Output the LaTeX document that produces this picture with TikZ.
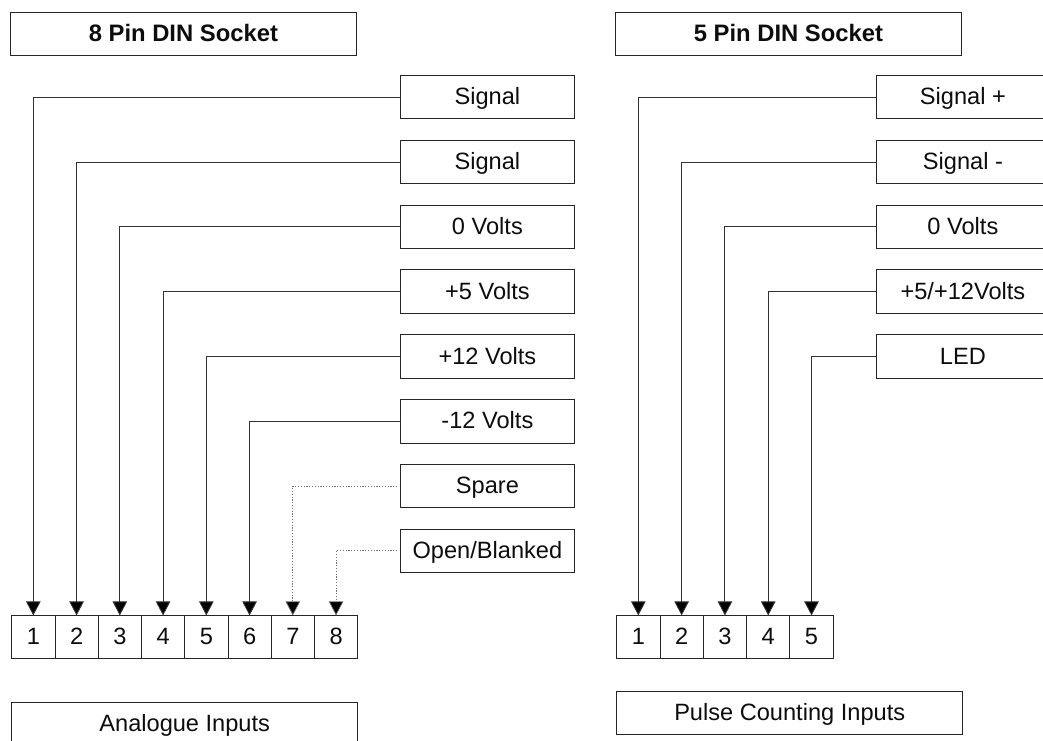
\documentclass[tikz,border=0pt]{standalone}
\usepackage{fontspec}
\setmainfont{Liberation Sans}
\usetikzlibrary{arrows.meta}
\tikzset{
  x=1pt,y=-1pt,
  boxbase/.style={draw=black!85,line width=0.9pt,fill=white,inner sep=0pt,outer sep=0pt,anchor=north west,font=\fontsize{23.6}{28}\selectfont,text=black!95,text height=17.5pt,text depth=2.3pt},
  widebox/.style={boxbase,minimum width=346pt,minimum height=43.2pt},
  labelbox/.style={boxbase,minimum width=173.6pt,minimum height=43.4pt},
  pinbox/.style={boxbase,minimum width=43.25pt,minimum height=43.3pt},
  titlebox/.style={widebox,font=\fontsize{23.8}{28}\selectfont\bfseries},
  wire/.style={draw=black!80,line width=0.9pt,-{Triangle[length=14pt,width=14.5pt,fill=black]}},
  dotwire/.style={wire,draw=black!55,line width=0.7pt,dash pattern=on 1.2pt off 1.6pt,shorten <=3.5pt},
}
\begin{document}
\begin{tikzpicture}
\path[use as bounding box] (0,0) rectangle (1043,740);
\clip (0,0) rectangle (1043,740);
\begin{scope}[shift={(0.4,0.4)}]
\node[titlebox] (t1) at (10,12) {8 Pin DIN Socket};
\node[titlebox] (t2) at (615,12) {5 Pin DIN Socket};
\node[widebox] (f1) at (11.3,701.7) {Analogue Inputs};
\node[widebox] (f2) at (616.3,690.7) {Pulse Counting Inputs};
% left labels
\foreach \n/\yy/\t in {1/75/Signal,2/140/Signal,3/204.8/0 Volts,4/269.4/+5 Volts,5/334.3/+12 Volts,6/399.2/-12 Volts,7/464/Spare,8/528.6/{Open/Blanked}}
  \node[labelbox] (a\n) at (400.2,\yy) {\t};
% right labels
\foreach \n/\yy/\t in {1/75/Signal +,2/140/Signal -,3/204.8/0 Volts,4/269.4/{+5/+12Volts},5/334.3/LED}
  \node[labelbox] (b\n) at (875.7,\yy) {\t};
% pins
\foreach \n in {1,...,8}
  \node[pinbox] (p\n) at ({11.3+(\n-1)*43.25},615) {\n};
\foreach \n in {1,...,5}
  \node[pinbox] (q\n) at ({616.3+(\n-1)*43.3},615) {\n};
% connectors
\foreach \n in {1,...,6}
  \draw[wire] (a\n.west) -| (p\n.north);
\foreach \n in {7,8}
  \draw[dotwire] (a\n.west) -| (p\n.north);
\foreach \n in {1,...,5}
  \draw[wire] (b\n.west) -| (q\n.north);
\end{scope}
\end{tikzpicture}
\end{document}
